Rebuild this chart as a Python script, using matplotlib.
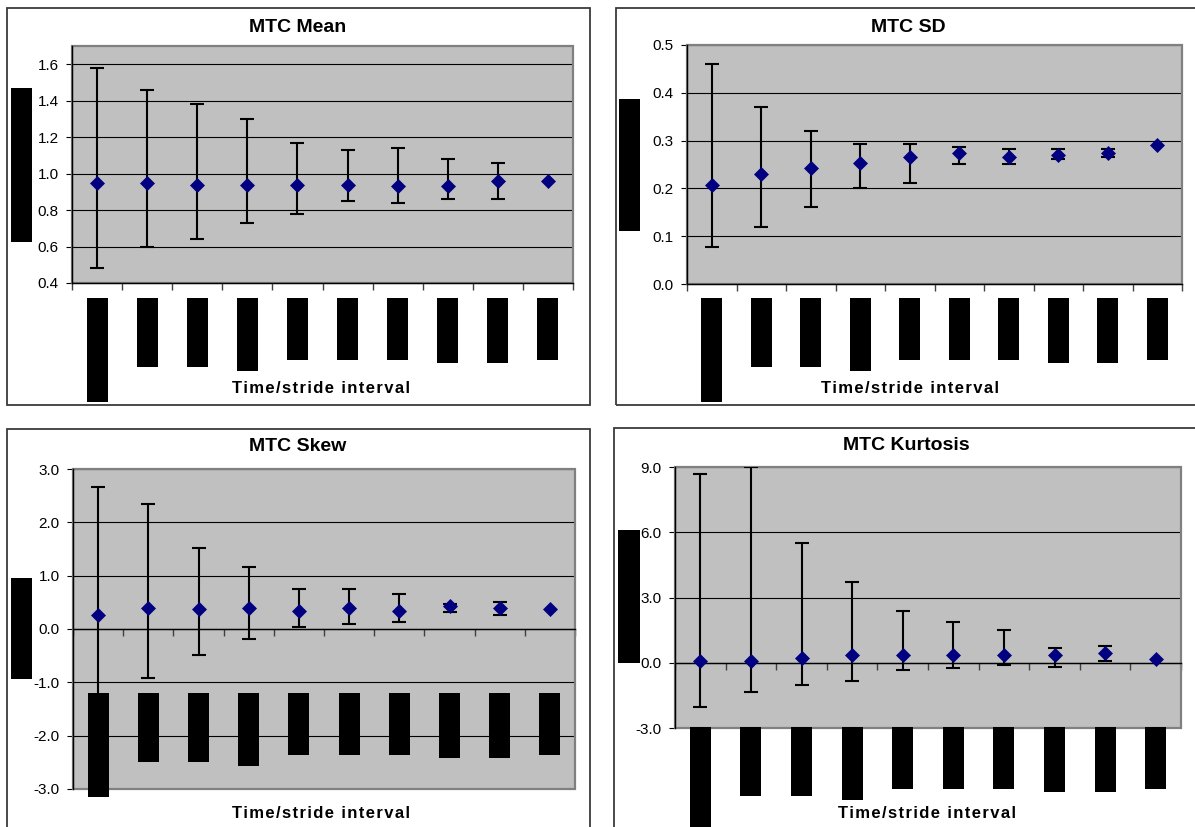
import numpy as np
import matplotlib
matplotlib.use("Agg")
import matplotlib.pyplot as plt
from matplotlib.patches import Rectangle

W, H = 1195, 827

# ---- data ----
intervals = list(range(1, 11))

mean_val = [0.95, 0.95, 0.94, 0.94, 0.94, 0.94, 0.93, 0.93, 0.96, 0.96]
mean_hi = [1.58, 1.46, 1.38, 1.30, 1.17, 1.13, 1.14, 1.08, 1.06, np.nan]
mean_lo = [0.48, 0.60, 0.64, 0.73, 0.78, 0.85, 0.84, 0.86, 0.86, np.nan]

sd_val = [0.208, 0.231, 0.243, 0.254, 0.266, 0.274, 0.266, 0.270, 0.274, 0.290]
sd_hi = [0.460, 0.371, 0.320, 0.293, 0.293, 0.286, 0.282, 0.282, 0.282, np.nan]
sd_lo = [0.077, 0.119, 0.162, 0.201, 0.212, 0.251, 0.251, 0.262, 0.266, np.nan]

skew_val = [0.27, 0.40, 0.37, 0.40, 0.34, 0.40, 0.34, 0.44, 0.40, 0.37]
skew_hi = [2.66, 2.34, 1.52, 1.17, 0.75, 0.75, 0.65, 0.46, 0.51, np.nan]
skew_lo = [-2.10, -0.91, -0.49, -0.18, 0.03, 0.09, 0.13, 0.31, 0.27, np.nan]

kurt_val = [0.06, 0.06, 0.23, 0.34, 0.34, 0.34, 0.34, 0.34, 0.43, 0.17]
kurt_hi = [8.68, 9.00, 5.52, 3.73, 2.37, 1.87, 1.51, 0.67, 0.76, np.nan]
kurt_lo = [-2.05, -1.36, -1.02, -0.86, -0.35, -0.26, -0.09, -0.18, 0.08, np.nan]

titles = ["MTC Mean", "MTC SD", "MTC Skew", "MTC Kurtosis"]
xlabel = "Time/stride interval"

mean_ticks = [0.4, 0.6, 0.8, 1.0, 1.2, 1.4, 1.6]
sd_ticks = [0.0, 0.1, 0.2, 0.3, 0.4, 0.5]
skew_ticks = [-3.0, -2.0, -1.0, 0.0, 1.0, 2.0, 3.0]
kurt_ticks = [-3.0, 0.0, 3.0, 6.0, 9.0]

# lengths (px) of the blacked-out category labels
label_len = [104, 69, 69, 73, 62, 62, 62, 65, 65, 62]

# ---- layout (pixel boxes, top-left origin) ----
panels = [
    dict(val=mean_val, hi=mean_hi, lo=mean_lo, ticks=mean_ticks, ylim=(0.4, 1.7),
         axbox=(72, 46, 573, 283), frame=(7, 8, 590, 405), xaxis_at=None,
         lab_top=298, ybox=(11, 88, 32, 242), title_xy=(298, 27), xlab_xy=(321, 389)),
    dict(val=sd_val, hi=sd_hi, lo=sd_lo, ticks=sd_ticks, ylim=(0.0, 0.5),
         axbox=(687, 45, 1182, 284), frame=(616, 8, 1210, 405), xaxis_at=None,
         lab_top=298, ybox=(619, 99, 640, 231), title_xy=(908, 27), xlab_xy=(910, 389)),
    dict(val=skew_val, hi=skew_hi, lo=skew_lo, ticks=skew_ticks, ylim=(-3.0, 3.0),
         axbox=(73, 469, 575, 789), frame=(7, 429, 590, 840), xaxis_at=0.0,
         lab_top=693, ybox=(11, 578, 32, 679), title_xy=(298, 447), xlab_xy=(321, 814)),
    dict(val=kurt_val, hi=kurt_hi, lo=kurt_lo, ticks=kurt_ticks, ylim=(-3.0, 9.0),
         axbox=(675, 467, 1181, 728), frame=(614, 428, 1210, 840), xaxis_at=0.0,
         lab_top=727, ybox=(618, 530, 640, 663), title_xy=(906, 446), xlab_xy=(927, 813)),
]

FONT = ["Liberation Sans", "DejaVu Sans"]
plt.rcParams["font.family"] = FONT

fig = plt.figure(figsize=(W / 100, H / 100), dpi=100)
fig.patch.set_facecolor("white")


def fig_rect(x0, y0, x1, y1):
    # pixel box (top-left origin) -> figure fraction
    return [x0 / W, 1 - y1 / H, (x1 - x0) / W, (y1 - y0) / H]


def black_box(x0, y0, x1, y1):
    l, b, w, h = fig_rect(x0, y0, x1, y1)
    fig.add_artist(Rectangle((l, b), w, h, transform=fig.transFigure,
                             facecolor="black", edgecolor="none", zorder=5))


spaced = "\u200a".join(xlabel)

for p, title in zip(panels, titles):
    # chart area border
    l, b, w, h = fig_rect(*p["frame"])
    fig.add_artist(Rectangle((l, b), w, h, transform=fig.transFigure, fill=False,
                             edgecolor="#3a3a3a", linewidth=1.3, zorder=0))

    ax = fig.add_axes(fig_rect(*p["axbox"]))
    ax.set_facecolor("#C0C0C0")
    ax.set_xlim(0.5, 10.5)
    ax.set_ylim(*p["ylim"])

    val = np.array(p["val"])
    hi = np.array(p["hi"])
    lo = np.array(p["lo"])
    ax.errorbar(intervals, val, yerr=[val - lo, hi - val], fmt="none",
                ecolor="black", elinewidth=1.5, capsize=5, capthick=1.5, zorder=3)
    ax.plot(intervals, val, "D", color="#000080", markersize=7.2,
            markeredgewidth=0.5, zorder=4)

    ax.set_yticks(p["ticks"])
    ax.set_yticklabels([f"{t:.1f}" for t in p["ticks"]])
    ax.yaxis.grid(True, color="black", linewidth=0.8)
    ax.set_axisbelow(True)
    ax.set_xticks(np.arange(0.5, 11.0, 1.0))
    ax.set_xticklabels([])
    ax.tick_params(axis="y", direction="out", length=4.5, width=0.8, pad=5,
                   labelsize=11, colors="black")
    ax.tick_params(axis="x", direction="out", length=5, width=1.0, color="#404040")

    for s in ("top", "right"):
        ax.spines[s].set_visible(False)
    ax.add_patch(Rectangle((0, 0), 1, 1, transform=ax.transAxes, fill=False,
                           edgecolor="#808080", linewidth=1.6, clip_on=False, zorder=1))
    ax.spines["left"].set_color("black")
    ax.spines["left"].set_linewidth(1.0)
    ax.spines["bottom"].set_color("black")
    ax.spines["bottom"].set_linewidth(1.0)
    if p["xaxis_at"] is not None:
        ax.spines["bottom"].set_position(("data", p["xaxis_at"]))
    for s in ax.spines.values():
        s.set_zorder(2)

    # titles and axis title
    tx, ty = p["title_xy"]
    fig.text(tx / W, 1 - ty / H, title, ha="center", va="center",
             fontsize=14, fontweight="bold")
    lx, ly = p["xlab_xy"]
    fig.text(lx / W, 1 - ly / H, spaced, ha="center", va="center",
             fontsize=12, fontweight="bold")

    # blacked-out y label and category labels
    black_box(*p["ybox"])
    for i, n in zip(intervals, label_len):
        xc = ax.transData.transform((i, 0))[0]
        black_box(xc - 10.5, p["lab_top"], xc + 10.5, p["lab_top"] + n)

fig.savefig("out.png", dpi=100, facecolor="white")
